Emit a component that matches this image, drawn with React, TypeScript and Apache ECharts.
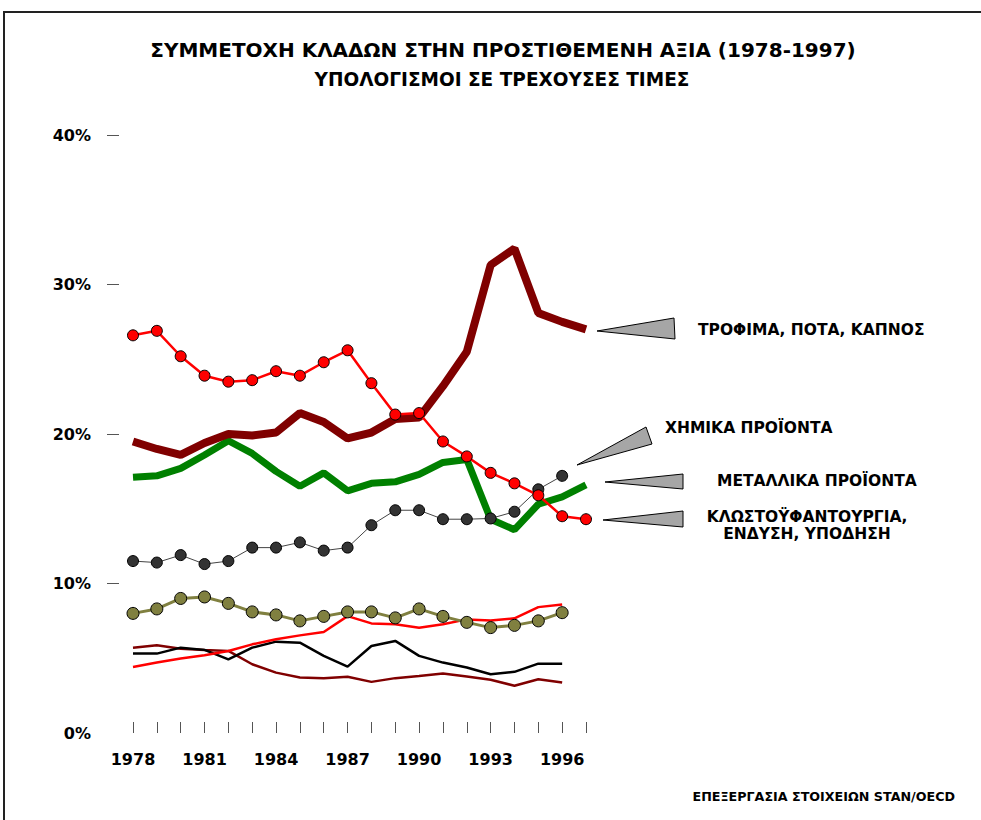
import React, { useEffect, useRef } from "react";
import * as echarts from "echarts";

const years = ["1978","1979","1980","1981","1982","1983","1984","1985","1986","1987","1988","1989","1990","1991","1992","1993","1994","1995","1996","1997"];
const yTicks = [10, 20, 30, 40];

const food = [19.5, 19.0, 18.6, 19.4, 20.0, 19.9, 20.1, 21.4, 20.8, 19.7, 20.1, 21.0, 21.1, 23.2, 25.5, 31.3, 32.4, 28.1, 27.5, 27.0];
const textile = [26.6, 26.9, 25.2, 23.9, 23.5, 23.6, 24.2, 23.9, 24.8, 25.6, 23.4, 21.3, 21.4, 19.5, 18.5, 17.4, 16.7, 15.9, 14.5, 14.3];
const metals = [17.1, 17.2, 17.7, 18.6, 19.55, 18.7, 17.5, 16.5, 17.4, 16.2, 16.7, 16.8, 17.3, 18.1, 18.3, 14.3, 13.6, 15.3, 15.8, 16.6];
const chemicals = [11.5, 11.4, 11.9, 11.3, 11.5, 12.4, 12.4, 12.75, 12.2, 12.4, 13.9, 14.9, 14.9, 14.3, 14.3, 14.35, 14.8, 16.3, 17.2, null];
const olive = [8.0, 8.3, 9.0, 9.1, 8.67, 8.1, 7.9, 7.5, 7.8, 8.1, 8.1, 7.7, 8.3, 7.8, 7.4, 7.05, 7.2, 7.5, 8.05, null];
const redThin = [4.42, 4.71, 4.98, 5.2, 5.49, 5.93, 6.27, 6.53, 6.76, 7.82, 7.33, 7.27, 7.04, 7.27, 7.6, 7.53, 7.67, 8.42, 8.6, null];
const blackThin = [5.31, 5.31, 5.71, 5.56, 4.93, 5.71, 6.11, 6.04, 5.16, 4.44, 5.82, 6.16, 5.16, 4.71, 4.38, 3.93, 4.09, 4.64, 4.64, null];
const darkRedThin = [5.71, 5.87, 5.64, 5.56, 5.49, 4.6, 4.04, 3.71, 3.67, 3.76, 3.42, 3.67, 3.82, 3.98, 3.78, 3.56, 3.16, 3.6, 3.38, null];

const titleText = "ΣΥΜΜΕΤΟΧΗ ΚΛΑΔΩΝ ΣΤΗΝ ΠΡΟΣΤΙΘΕΜΕΝΗ ΑΞΙΑ (1978-1997)";
const subtitleText = "ΥΠΟΛΟΓΙΣΜΟΙ ΣΕ ΤΡΕΧΟΥΣΕΣ ΤΙΜΕΣ";
const sourceText = "ΕΠΕΞΕΡΓΑΣΙΑ ΣΤΟΙΧΕΙΩΝ STAN/OECD";
const labelFood = "ΤΡΟΦΙΜΑ, ΠΟΤΑ, ΚΑΠΝΟΣ";
const labelChem = "ΧΗΜΙΚΑ ΠΡΟΪΟΝΤΑ";
const labelMetal = "ΜΕΤΑΛΛΙΚΑ ΠΡΟΪΟΝΤΑ";
const labelTextile = "ΚΛΩΣΤΟΫΦΑΝΤΟΥΡΓΙΑ,\nΕΝΔΥΣΗ, ΥΠΟΔΗΣΗ";

const FONT = "'DejaVu Sans', Arial, sans-serif";

export default function App() {
  const ref = useRef<HTMLDivElement>(null);
  useEffect(() => {
    if (!ref.current) return;
    const chart = echarts.init(ref.current, null, { renderer: "svg" });
    const wedgeStyle = { fill: "#a6a6a6", stroke: "#000", lineWidth: 1 };
    const labelStyle = (x: number, y: number, text: string, align: string = "left") => ({
      type: "text",
      x,
      y,
      style: { text, fill: "#000", font: `bold 15.5px ${FONT}`, textAlign: align, textVerticalAlign: "middle", lineHeight: 17 },
    });
    chart.setOption({
      animation: false,
      backgroundColor: "#fff",
      textStyle: { fontFamily: FONT },
      grid: { left: 133, right: 395, top: 135, bottom: 87 },
      xAxis: {
        type: "category",
        data: years,
        boundaryGap: false,
        axisLine: { show: false },
        axisTick: { show: true, inside: true, length: 11, interval: 0, lineStyle: { color: "#555", width: 1 } },
        axisLabel: { interval: 2, margin: 18, fontSize: 16, fontWeight: "bold", color: "#000", fontFamily: FONT },
        splitLine: { show: false },
      },
      yAxis: {
        type: "value",
        min: 0,
        max: 40,
        interval: 10,
        offset: 14,
        axisLine: { show: false },
        axisTick: { show: true, length: 12, customValues: yTicks, lineStyle: { color: "#555", width: 1 } },
        axisLabel: { margin: 28, fontSize: 16, fontWeight: "bold", color: "#000", fontFamily: FONT, formatter: "{value}%" },
        splitLine: { show: false },
      },
      series: [
        { type: "line", data: darkRedThin, symbol: "none", lineStyle: { color: "#800000", width: 2.5 } },
        { type: "line", data: blackThin, symbol: "none", lineStyle: { color: "#000", width: 2.5 } },
        { type: "line", data: redThin, symbol: "none", lineStyle: { color: "#ff0000", width: 2.5 } },
        { type: "line", data: olive, symbol: "circle", symbolSize: 12, lineStyle: { color: "#808040", width: 3 }, itemStyle: { color: "#808040", borderColor: "#000", borderWidth: 1 } },
        { type: "line", data: chemicals, symbol: "circle", symbolSize: 11, lineStyle: { color: "#444", width: 1 }, itemStyle: { color: "#333", borderColor: "#000", borderWidth: 1 } },
        { type: "line", data: metals, symbol: "none", lineStyle: { color: "#008000", width: 7 } },
        { type: "line", data: food, symbol: "none", lineStyle: { color: "#800000", width: 8 } },
        { type: "line", data: textile, symbol: "circle", symbolSize: 11, lineStyle: { color: "#ff0000", width: 2.5 }, itemStyle: { color: "#ff0000", borderColor: "#000", borderWidth: 1 } },
      ],
      graphic: [
        { type: "rect", shape: { x: 4, y: 12, width: 1100, height: 900 }, style: { fill: "none", stroke: "#222", lineWidth: 2 }, silent: true },
        { type: "text", x: 503, y: 50, style: { text: titleText, fill: "#000", font: `bold 20px ${FONT}`, textAlign: "center", textVerticalAlign: "middle" } },
        { type: "text", x: 502, y: 79, style: { text: subtitleText, fill: "#000", font: `bold 18.5px ${FONT}`, textAlign: "center", textVerticalAlign: "middle" } },
        { type: "text", x: 955, y: 796, style: { text: sourceText, fill: "#000", font: `bold 12.7px ${FONT}`, textAlign: "right", textVerticalAlign: "middle" } },
        { type: "polygon", shape: { points: [[597, 331], [674, 318], [675, 339]] }, style: wedgeStyle },
        { type: "polygon", shape: { points: [[577, 465], [646, 427], [652, 444]] }, style: wedgeStyle },
        { type: "polygon", shape: { points: [[605, 482], [683, 474], [683, 489]] }, style: wedgeStyle },
        { type: "polygon", shape: { points: [[603, 520], [683, 511], [683, 527]] }, style: wedgeStyle },
        labelStyle(698, 330, labelFood),
        labelStyle(665, 428, labelChem),
        labelStyle(717, 481, labelMetal),
        labelStyle(807, 525, labelTextile, "center"),
      ],
    });
    return () => chart.dispose();
  }, []);
  return <div ref={ref} style={{ position: "fixed", left: 0, top: 0, width: 981, height: 820 }} />;
}
